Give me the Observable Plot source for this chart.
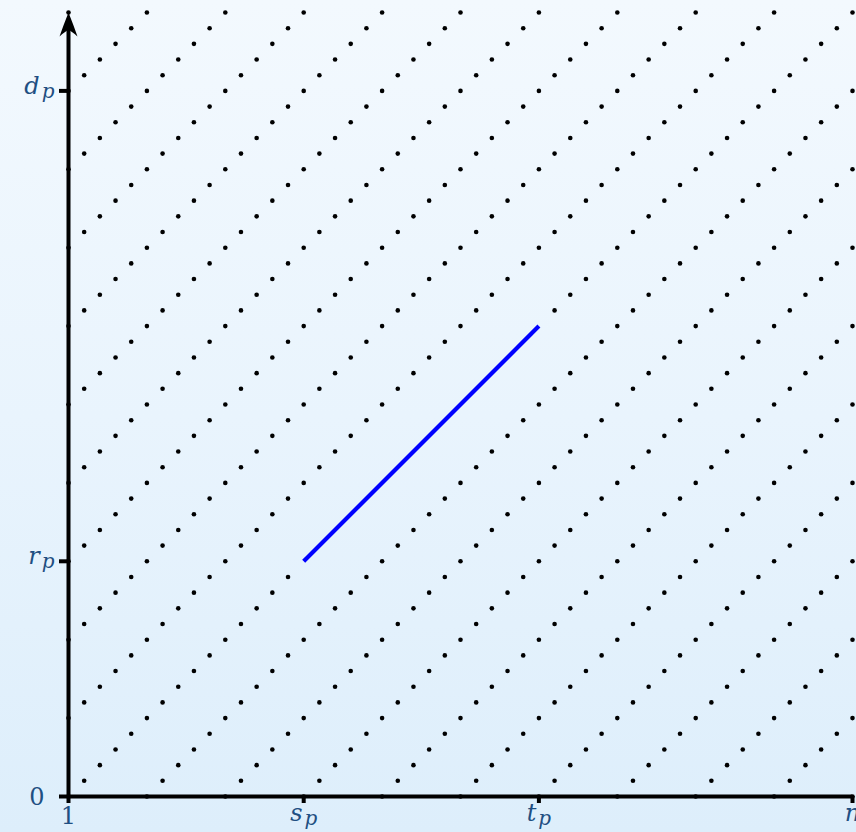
<!DOCTYPE html>
<html>
<head>
<meta charset="utf-8">
<script src="https://cdn.jsdelivr.net/npm/d3@7"></script>
<script src="https://cdn.jsdelivr.net/npm/@observablehq/plot@0.6"></script>
<style>
  html, body { margin: 0; padding: 0; overflow: hidden; }
  #chart {
    width: 856px; height: 832px; overflow: hidden;
    background: linear-gradient(to bottom, #f3f9fe 0%, #e9f4fd 50%, #ddeefb 100%);
  }
</style>
</head>
<body>
<div id="chart"></div>
<script>
// ---- data ----
const xDomain = [1, 51];            // 1 .. n
const yDomain = [0, 50];
const xTicks = [1, 16, 31, 51];
const xTickLabels = ["1", "s_p", "t_p", "n"];
const yTicks = [0, 15, 45];
const yTickLabels = ["0", "r_p", "d_p"];
const latticeStep = 1;              // spacing of dots along each diagonal
const diagonalSpacing = 5;          // diagonals x - y ≡ 1 (mod 5)
const segmentX = [16, 31];          // s_p -> t_p
const segmentY = [15, 30];          // r_p -> r_p + (t_p - s_p)

const labelColor = "#1f4f82";
const labelFont = '"DejaVu Serif", "Liberation Serif", serif';

// dotted lattice of diagonals
const lattice = [];
for (let x = xDomain[0]; x <= xDomain[1]; x += latticeStep) {
  for (let y = yDomain[0]; y <= yDomain[1]; y += latticeStep) {
    if ((((x - xDomain[0] - y) % diagonalSpacing) + diagonalSpacing) % diagonalSpacing === 0) lattice.push({x, y});
  }
}
const segment = segmentX.map((x, i) => ({x, y: segmentY[i]}));
const onSegment = d => d.x >= segmentX[0] && d.x <= segmentX[1] && (d.x - segmentX[0]) === (d.y - segmentY[0]);

const xLab = new Map(xTicks.map((t, i) => [t, xTickLabels[i]]));
const yLab = new Map(yTicks.map((t, i) => [t, yTickLabels[i]]));

// stealth-like arrow head, tip at the anchor point, pointing up
const arrowHead = {
  draw(ctx) {
    ctx.moveTo(0, 0);
    ctx.quadraticCurveTo(4.8, 12, 9, 24);
    ctx.quadraticCurveTo(3, 18.5, 0, 17.5);
    ctx.quadraticCurveTo(-3, 18.5, -9, 24);
    ctx.quadraticCurveTo(-4.8, 12, 0, 0);
    ctx.closePath();
  }
};

const chart = Plot.plot({
  width: 856,
  height: 832,
  marginLeft: 68,
  marginRight: 4,
  marginTop: 12,
  marginBottom: 36,
  style: {background: "transparent", overflow: "visible"},
  x: {domain: xDomain},
  y: {domain: yDomain},
  marks: [
    Plot.dot(lattice.filter(d => !onSegment(d)), {x: "x", y: "y", r: 2.3, fill: "black", stroke: "none"}),
    Plot.line(segment, {x: "x", y: "y", stroke: "#0000ff", strokeWidth: 4.2, strokeLinecap: "butt"}),
    // axis lines
    Plot.ruleY([yDomain[0]], {stroke: "black", strokeWidth: 4}),
    Plot.ruleX([xDomain[0]], {y1: yDomain[0], y2: 49, stroke: "black", strokeWidth: 4}),
    Plot.dot([{x: xDomain[0], y: yDomain[1]}], {x: "x", y: "y", symbol: arrowHead, r: 10, fill: "black", stroke: "none"}),
    // ticks
    Plot.axisX(xTicks, {tickSize: 7, stroke: "black", strokeWidth: 4, fill: "none", label: null}),
    Plot.axisY(yTicks, {tickSize: 9, stroke: "black", strokeWidth: 4, fill: "none", label: null}),
    // tick labels
    Plot.axisX(xTicks.slice(1), {tickSize: 7, tickPadding: 0, stroke: "none", fill: labelColor, fontSize: 24,
      tickFormat: d => xLab.get(d), label: null}),
    Plot.axisX(xTicks.slice(0, 1), {tickSize: 7, tickPadding: 3, stroke: "none", fill: labelColor, fontSize: 24,
      tickFormat: d => xLab.get(d), label: null}),
    Plot.axisY(yTicks.slice(1), {tickSize: 9, tickPadding: 5, dy: -5, stroke: "none", fill: labelColor, fontSize: 24,
      tickFormat: d => yLab.get(d), label: null}),
    Plot.axisY(yTicks.slice(0, 1), {tickSize: 9, tickPadding: 15, dy: 1, stroke: "none", fill: labelColor, fontSize: 24,
      tickFormat: d => yLab.get(d), label: null})
  ]
});

// typeset "a_b" as a with subscript b; digits upright
chart.querySelectorAll("text").forEach(t => {
  const s = t.textContent;
  t.style.fontFamily = labelFont;
  t.style.fontSize = "24px";
  t.style.fontStyle = /^\d+$/.test(s) ? "normal" : "italic";
  if (s.includes("_")) {
    const [main, sub] = s.split("_");
    t.textContent = main;
    const ts = document.createElementNS("http://www.w3.org/2000/svg", "tspan");
    ts.textContent = sub;
    ts.style.fontSize = "20px";
    ts.setAttribute("dx", "2");
    ts.setAttribute("dy", "4");
    t.appendChild(ts);
  }
});

document.getElementById("chart").appendChild(chart);
</script>
</body>
</html>
